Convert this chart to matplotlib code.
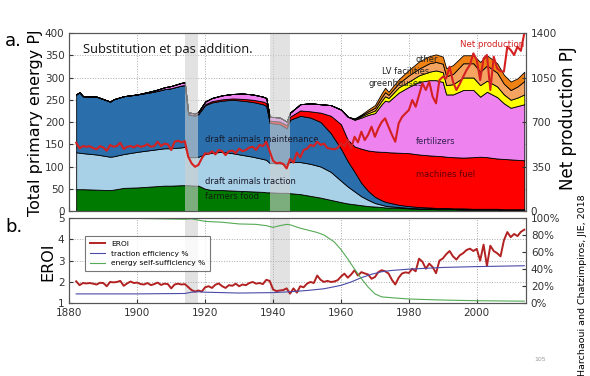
import numpy as np
import matplotlib
matplotlib.use('Agg')
import matplotlib.pyplot as plt
from matplotlib.ticker import FuncFormatter

# Stack data (PJ per layer), years where the shape changes
stack_years = [1882, 1883, 1884, 1888, 1892, 1893, 1896, 1900, 1904, 1906, 1908, 1910, 1913, 1914,
               1915, 1917, 1918, 1920, 1922, 1925, 1928, 1931, 1934, 1937, 1938, 1939, 1942, 1944,
               1945, 1948, 1951, 1954, 1957, 1960, 1962, 1964, 1966, 1968, 1970, 1972, 1973, 1974,
               1977, 1980, 1983, 1986, 1988, 1990, 1991, 1993, 1996, 1999, 2001, 2003, 2006, 2008,
               2010, 2012, 2014]
farmers_food = [49, 49, 49, 48, 47, 48, 52, 53, 55, 56, 57, 57, 58, 58,
                58, 57, 57, 50, 47, 47, 46, 45, 44, 43, 42, 42, 41, 41,
                40, 38, 34, 30, 25, 20, 17, 15, 13, 11, 10, 9, 8, 8,
                7, 6, 5, 5, 4, 4, 4, 4, 3, 3, 3, 3, 3, 2,
                2, 2, 2]
draft_traction = [83, 82, 81, 79, 75, 75, 76, 80, 82, 83, 84, 84, 85, 86,
                  63, 64, 65, 78, 84, 86, 84, 81, 78, 74, 73, 66, 66, 65,
                  70, 72, 72, 70, 63, 48, 38, 29, 20, 14, 8, 5, 4, 3,
                  2, 1, 1, 1, 1, 1, 1, 1, 1, 1, 1, 1, 1, 1,
                  1, 1, 1]
draft_maintenance = [130, 136, 128, 130, 124, 128, 130, 129, 130, 131, 133, 135, 139, 139,
                     96, 93, 96, 110, 113, 115, 120, 122, 123, 123, 121, 90, 88, 80,
                     95, 104, 104, 100, 87, 72, 57, 44, 30, 20, 14, 10, 9, 8,
                     5, 4, 3, 2, 2, 2, 2, 1, 2, 1, 1, 1, 1, 1,
                     1, 1, 1]
machines_fuel = [0, 0, 0, 0, 0, 0, 0, 0, 0, 0, 0, 0, 0, 0,
                 1, 1, 1, 2, 3, 3, 3, 4, 5, 6, 7, 5, 6, 7,
                 7, 12, 14, 21, 39, 55, 48, 57, 77, 91, 102, 109, 112, 113,
                 117, 119, 118, 117, 117, 116, 115, 115, 114, 116, 117, 116, 113, 113,
                 112, 111, 110]
fertilizers = [0, 0, 0, 0, 0, 0, 0, 0, 2, 3, 4, 5, 6, 6,
               4, 4, 4, 6, 7, 9, 10, 12, 12, 11, 11, 9, 9, 8,
               9, 14, 18, 19, 24, 33, 52, 60, 70, 80, 86, 107, 115, 114,
               135, 149, 163, 169, 170, 167, 140, 141, 152, 151, 135, 147, 138, 125,
               116, 121, 126]
greenhouses = [0] * 35 + [1, 3, 4, 6, 8, 10, 8,
                          12, 12, 15, 19, 22, 22, 21, 23, 28, 28, 26, 25, 24, 20,
                          18, 19, 22]
lv_facilities = [0] * 35 + [1, 2, 4, 6, 8, 9, 7,
                            9, 14, 15, 19, 19, 19, 20, 23, 32, 32, 30, 34, 31, 24,
                            22, 25, 30]
other = [0] * 35 + [1, 2, 4, 6, 9, 10, 7,
                    9, 12, 16, 16, 17, 16, 18, 20, 18, 18, 22, 23, 21, 20,
                    19, 18, 21]

years = np.arange(1882, 2015)
net_production = [537, 493, 511, 505, 510, 495, 485, 510, 500, 474,
                  519, 505, 512, 537, 488, 505, 511, 500, 517, 505,
                  511, 526, 505, 511, 545, 511, 530, 525, 480, 545,
                  553, 540, 550, 427, 375, 348, 362, 414, 454, 450,
                  470, 445, 480, 470, 440, 470, 475, 455, 490, 470,
                  480, 500, 505, 480, 520, 510, 545, 470, 395, 375,
                  380, 370, 335, 410, 380, 460, 420, 480, 490, 520,
                  510, 545, 520, 530, 495, 490, 485, 495, 535, 506,
                  558, 493, 584, 540, 624, 558, 600, 663, 584, 650,
                  700, 729, 663, 600, 545, 690, 740, 768, 794, 873,
                  820, 912, 1004, 952, 1017, 899, 847, 1030, 1056, 1043,
                  1135, 1017, 952, 1000, 1056, 1109, 1150, 1240, 1188, 1030,
                  1200, 1227, 952, 1214, 1122, 1100, 1096, 1292, 1266, 1227,
                  1292, 1260, 1398]
eroi = [2.03, 1.85, 1.95, 1.93, 1.95, 1.92, 1.88, 1.96, 1.95, 1.80,
        2.00, 1.98, 2.00, 2.05, 1.82, 1.93, 2.02, 1.95, 1.97, 1.90,
        1.88, 1.95, 1.85, 1.90, 1.97, 1.86, 1.92, 1.90, 1.70, 1.88,
        1.92, 1.88, 1.90, 1.76, 1.62, 1.55, 1.60, 1.55, 1.75, 1.80,
        1.72, 1.87, 1.93, 1.80, 1.72, 1.85, 1.82, 1.92, 1.80, 1.88,
        1.85, 1.95, 2.00, 1.92, 1.95, 1.90, 2.10, 2.05, 1.65, 1.57,
        1.60, 1.62, 1.70, 1.45, 1.70, 1.50, 1.80, 1.75, 1.92, 2.00,
        1.95, 2.30, 2.10, 2.00, 2.05, 2.00, 2.02, 2.08, 2.25, 2.39,
        2.20, 2.35, 2.55, 2.30, 2.46, 2.40, 2.35, 2.15, 2.23, 2.46,
        2.55, 2.50, 2.40, 2.10, 1.88, 2.20, 2.40, 2.45, 2.42, 2.62,
        2.50, 3.09, 2.95, 2.62, 2.86, 2.70, 2.41, 3.00, 3.10, 3.30,
        3.45, 3.20, 3.05, 3.25, 3.35, 3.50, 3.56, 3.45, 3.55, 3.00,
        3.75, 2.75, 3.70, 3.45, 3.35, 3.20, 3.95, 4.34, 4.10, 4.25,
        4.15, 4.35, 4.45]

traction_years = [1882, 1900, 1914, 1916, 1918, 1920, 1930, 1940, 1945, 1950, 1955, 1960,
                  1963, 1966, 1969, 1972, 1975, 1980, 1990, 2000, 2014]
traction_eff = [11, 11, 11.5, 13, 13.5, 13, 12, 12.5, 13.5, 15, 17, 21,
                25, 30, 34, 37, 38.5, 40, 42, 43, 44]

selfsuff_years = [1882, 1900, 1914, 1916, 1920, 1925, 1930, 1935, 1938, 1940, 1942, 1944,
                  1945, 1948, 1950, 1953, 1955, 1958, 1960, 1962, 1964, 1966, 1968, 1970,
                  1972, 1975, 1980, 1990, 2000, 2014]
self_sufficiency = [99.5, 99.5, 98.5, 99, 96, 95, 93, 92.5, 91, 89, 91, 92.5,
                    92, 88, 86, 83, 80, 72, 63, 52, 40, 29, 19, 11,
                    7.5, 6.5, 5, 3.8, 3, 2.5]

wars = [(1914, 1918), (1939, 1945)]

layer_colors = ['#007a00', '#a8d0e6', '#2a6eac', '#ff0000', '#ee82ee', '#ffff00', '#f4a460', '#f08214']

fig = plt.figure(figsize=(5.9, 3.76), dpi=100)
ax1 = fig.add_axes([0.1176, 0.4388, 0.7739, 0.4734])
ax2 = fig.add_axes([0.1176, 0.1934, 0.7739, 0.2269])

tick_kw = dict(labelsize=7.5, direction='in', length=3, colors='#333333')
grid_kw = dict(linestyle=':', color='#aaaaaa', linewidth=0.7)

# --- a. primary energy stack ---
ax1.set_axisbelow(True)
ax1.grid(True, **grid_kw)
ax1.stackplot(stack_years, farmers_food, draft_traction, draft_maintenance, machines_fuel,
              fertilizers, greenhouses, lv_facilities, other,
              colors=layer_colors, edgecolor='black', linewidth=0.6)
for a, b in wars:
    ax1.axvspan(a, b, color='#d0d0d0', alpha=0.6, lw=0, zorder=3)
ax1.set_xlim(1880, 2014.5)
ax1.set_ylim(0, 400)
ax1.set_yticks(range(0, 401, 50))
ax1.set_xticks(range(1880, 2015, 20))
ax1.set_xticklabels([])
ax1.tick_params(**tick_kw)

ax1r = ax1.twinx()
ax1r.plot(years, net_production, color='#d42020', lw=1.5)
ax1r.set_ylim(0, 1400)
ax1r.set_yticks([0, 350, 700, 1050, 1400])
ax1r.tick_params(**tick_kw)

ax1.text(1884, 364, 'Substitution et pas addition.', fontsize=9.3, family='Open Sans',
         va='center', color='#111111')
lab_kw = dict(fontsize=6, va='center', ha='left', zorder=5)
ax1.text(1919.9, 161.8, 'draft animals maintenance', color='#1a1a2a', **lab_kw)
ax1.text(1919.9, 67.4, 'draft animals traction', color='#1a1a2a', **lab_kw)
ax1.text(1919.9, 31.5, 'farmers food', color='#102010', **lab_kw)
ax1.text(1982.1, 157, 'fertilizers', color='#302050', **lab_kw)
ax1.text(1982.1, 81, 'machines fuel', color='#600000', **lab_kw)
ax1.text(1968, 287.6, 'greenhouses', color='#222222', **lab_kw)
ax1.text(1972.1, 312.4, 'LV facilities', color='#222222', **lab_kw)
ax1.text(1982.1, 341.6, 'other', color='#222222', **lab_kw)
ax1.text(1995.0, 375.3, 'Net production', color='#d42020', fontsize=6.2, va='center', zorder=5)

# --- b. EROI and ratios ---
ax2.grid(True, **grid_kw)
for a, b in wars:
    ax2.axvspan(a, b, color='#d0d0d0', alpha=0.6, lw=0, zorder=1)
l1, = ax2.plot(years, eroi, color='#b22222', lw=1.4, zorder=3, label='EROI')
ax2.set_xlim(1880, 2014.5)
ax2.set_ylim(1, 5)
ax2.set_yticks([1, 2, 3, 4, 5])
ax2.set_xticks(range(1880, 2015, 20))
ax2.tick_params(**tick_kw)

ax2r = ax2.twinx()
l2, = ax2r.plot(traction_years, traction_eff, color='#4a4aa8', lw=0.8, label='traction efficiency %')
l3, = ax2r.plot(selfsuff_years, self_sufficiency, color='#55aa55', lw=0.8, label='energy self-sufficiency %')
ax2r.set_ylim(0, 100)
ax2r.set_yticks(range(0, 101, 20))
ax2r.yaxis.set_major_formatter(FuncFormatter(lambda v, p: '%d%%' % v))
ax2r.tick_params(**tick_kw)
leg = ax2r.legend(handles=[l1, l2, l3], loc='upper left', bbox_to_anchor=(0.027, 0.83),
                  fontsize=5.4, fancybox=False, labelspacing=0.45, handlelength=2.0,
                  borderpad=0.6)
leg.get_frame().set_edgecolor('#555555')
leg.get_frame().set_linewidth(0.8)

for ax in [ax1, ax1r, ax2, ax2r]:
    for s in ax.spines.values():
        s.set_color('#555555')

# figure texts
fig.text(0.009, 0.89, 'a.', fontsize=13, va='center', ha='left')
fig.text(0.009, 0.396, 'b.', fontsize=13, va='center', ha='left')
fig.text(0.061, 0.675, 'Total primary energy PJ', fontsize=11.5, rotation=90, ha='center', va='center')
fig.text(0.081, 0.303, 'EROI', fontsize=11.5, rotation=90, ha='center', va='center')
fig.text(0.963, 0.686, 'Net production PJ', fontsize=12, rotation=90, ha='center', va='center')
fig.text(0.988, 0.242, 'Harchaoui and Chatzimpiros, JIE, 2018', fontsize=6.8, rotation=90,
         ha='center', va='center')
fig.text(0.915, 0.043, '105', fontsize=4.5, color='#999999', ha='center', va='center')

fig.savefig('out.png', dpi=100)
